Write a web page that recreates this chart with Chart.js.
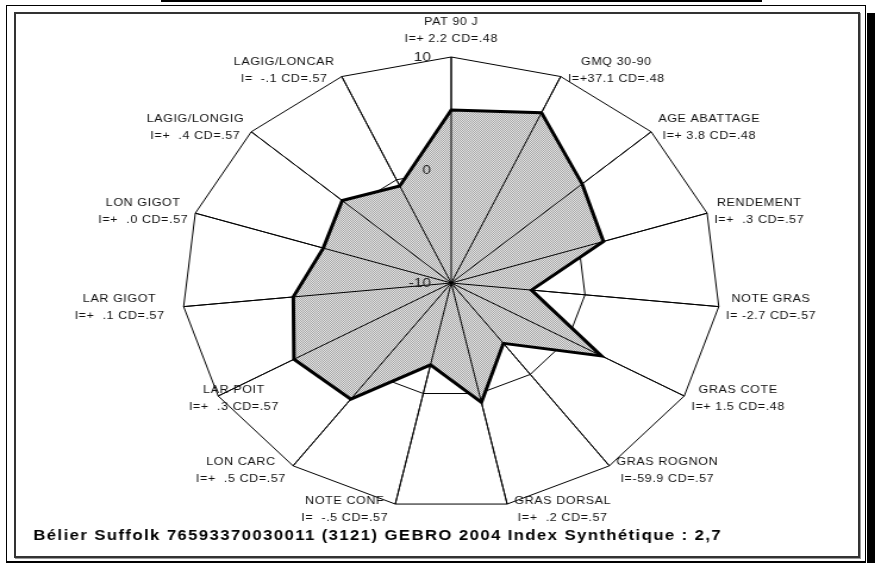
<!DOCTYPE html>
<html>
<head>
<meta charset="utf-8">
<script src="https://cdn.jsdelivr.net/npm/chart.js@4.4.1/dist/chart.umd.min.js"></script>
<style>
  html, body { margin: 0; padding: 0; background: #fff; width: 875px; height: 563px; overflow: hidden; position: relative; }
  .box { position: absolute; box-sizing: border-box; }
  #topline { left: 161px; top: 0; width: 601px; height: 2px; background: #000; }
  #outer { left: 6px; top: 5px; width: 860px; height: 558px; border: 1px solid #000; border-bottom-width: 2px; }
  #inner { left: 14px; top: 12px; width: 846px; height: 546px; border: 2px solid #333; box-shadow: 1px 1px 0 #999; }
  #bar { left: 867px; top: 13px; width: 8px; height: 550px; background: #000; }
  /* the original export is stretched horizontally, so the whole chart is too */
  #wrap { position: absolute; left: 0; top: 0; width: 735px; height: 563px; transform: scaleX(1.1905); transform-origin: 0 0; }
</style>
</head>
<body>
<div class="box" id="topline"></div>
<div class="box" id="outer"></div>
<div class="box" id="inner"></div>
<div class="box" id="bar"></div>
<div id="wrap"><canvas id="chart-radar"></canvas></div>

<script>
const CATEGORIES = [
  'PAT 90 J', 'GMQ 30-90', 'AGE ABATTAGE', 'RENDEMENT', 'NOTE GRAS',
  'GRAS COTE', 'GRAS ROGNON', 'GRAS DORSAL', 'NOTE CONF', 'LON CARC',
  'LAR POIT', 'LAR GIGOT', 'LON GIGOT', 'LAGIG/LONGIG', 'LAGIG/LONCAR',
];
const INDEX_INFO = [
  'I=+ 2.2 CD=.48', 'I=+37.1 CD=.48', 'I=+ 3.8 CD=.48', 'I=+  .3 CD=.57', 'I= -2.7 CD=.57',
  'I=+ 1.5 CD=.48', 'I=-59.9 CD=.57', 'I=+  .2 CD=.57', 'I=  -.5 CD=.57', 'I=+  .5 CD=.57',
  'I=+  .3 CD=.57', 'I=+  .1 CD=.57', 'I=+  .0 CD=.57', 'I=+  .4 CD=.57', 'I=  -.1 CD=.57',
];
// valeurs (échelle -10 .. 10)
const VALUES = [5.3, 6.5, 3.1, 1.9, -4.0, 2.9, -3.4, 0.8, -2.6, 2.7, 3.5, 1.8, 0.0, 0.9, -0.6];
const SCALE_MIN = -10;
const SCALE_MAX = 10;
const SCALE_STEP = 10;
const TITLE = 'Bélier Suffolk 76593370030011 (3121) GEBRO 2004 Index Synthétique : 2,7';

const FONT = '"Liberation Sans", Arial, sans-serif';
// décalages d'étiquettes comme dans l'export d'origine
const LABEL_NUDGE = { 10: 57, 11: -10 };

/** motif pointillé gris du remplissage */
function dotPattern() {
  const c = document.createElement('canvas');
  c.width = 2;
  c.height = 2;
  const g = c.getContext('2d');
  g.fillStyle = '#e6e6e6';
  g.fillRect(0, 0, 2, 2);
  g.fillStyle = '#a4a4a4';
  g.fillRect(0, 0, 1, 1);
  g.fillRect(1, 1, 1, 1);
  return g.createPattern(c, 'repeat');
}

// rayons par-dessus le remplissage + textes
const overlay = {
  id: 'overlay',
  afterDatasetsDraw(chart) {
    const r = chart.scales.r;
    const ctx = chart.ctx;
    ctx.save();

    ctx.strokeStyle = '#000';
    ctx.lineWidth = 1;
    ctx.beginPath();
    for (let i = 0; i < CATEGORIES.length; i++) {
      const p = r.getPointPositionForValue(i, r.max);
      ctx.moveTo(r.xCenter, r.yCenter);
      ctx.lineTo(p.x, p.y);
    }
    ctx.stroke();

    // graduations à gauche de l'axe vertical
    ctx.fillStyle = '#222';
    ctx.font = `13px ${FONT}`;
    ctx.textAlign = 'right';
    ctx.textBaseline = 'middle';
    r.ticks.forEach((t) => {
      const d = r.getDistanceFromCenterForValue(t.value);
      ctx.fillText(t.label, r.xCenter - 17, r.yCenter - d);
    });

    // étiquettes des axes (2 lignes)
    ctx.fillStyle = '#111';
    ctx.font = `10.5px ${FONT}`;
    ctx.letterSpacing = '0.5px';
    ctx.textAlign = 'center';
    CATEGORIES.forEach((name, i) => {
      const p = r.getPointPositionForValue(i, r.max);
      const theta = p.angle + Math.PI / 2;
      const lines = [name, INDEX_INFO[i]];
      const w = Math.max(...lines.map((t) => ctx.measureText(t).width));
      let cx, cy;
      if (i === 0) {
        cx = p.x;
        cy = p.y - 26;
      } else {
        const side = Math.sin(theta) > 0 ? 1 : -1;
        cx = p.x + side * (6 + w / 2) + (LABEL_NUDGE[i] || 0);
        cy = p.y - 6 * Math.cos(theta);
      }
      ctx.fillText(lines[0], cx, cy - 8.5);
      ctx.fillText(lines[1], cx, cy + 8.5);
    });

    ctx.fillStyle = '#000';
    ctx.font = `bold 14px ${FONT}`;
    ctx.letterSpacing = '1.2px';
    ctx.textAlign = 'left';
    ctx.fillText(TITLE, 28, 536);

    ctx.restore();
  },
};

new Chart(document.getElementById('chart-radar'), {
  type: 'radar',
  data: {
    labels: CATEGORIES,
    datasets: [
      {
        data: VALUES,
        borderColor: '#000',
        borderWidth: 3,
        backgroundColor: dotPattern(),
        fill: 'start',
        pointRadius: 0,
        tension: 0,
      },
    ],
  },
  options: {
    responsive: true,
    maintainAspectRatio: false,
    animation: false,
    layout: {
      padding: { left: 153, right: 130, top: 57, bottom: 54 },
    },
    plugins: {
      legend: { display: false },
      tooltip: { enabled: false },
    },
    scales: {
      r: {
        min: SCALE_MIN,
        max: SCALE_MAX,
        ticks: { display: false, stepSize: SCALE_STEP },
        pointLabels: { display: false },
        grid: { color: '#000', lineWidth: 1 },
        angleLines: { color: '#000', lineWidth: 1 },
      },
    },
  },
  plugins: [overlay],
});
</script>
</body>
</html>
